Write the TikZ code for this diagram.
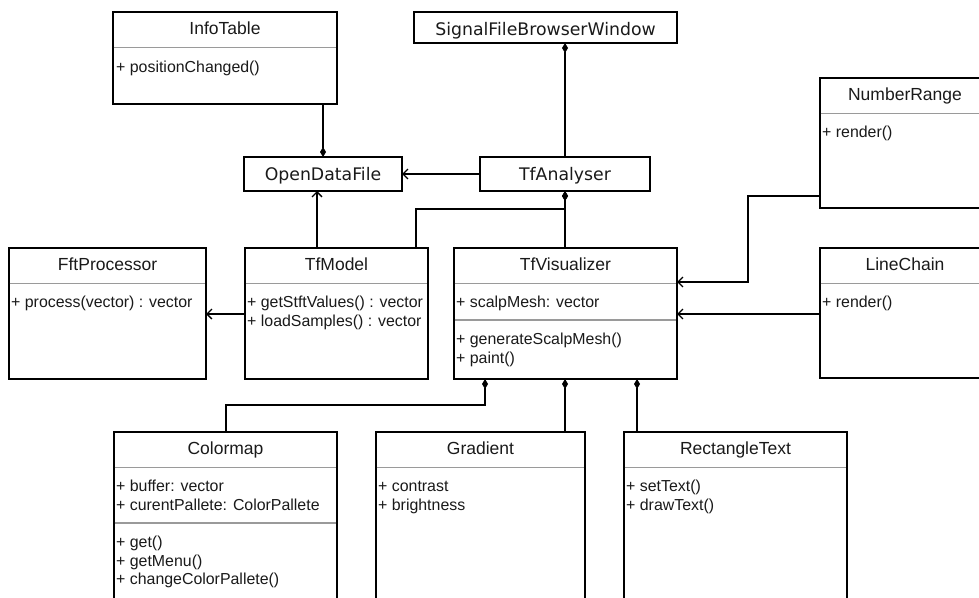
\documentclass[tikz,border=0pt]{standalone}
\usepackage{fontspec}
\setmainfont{Liberation Sans}
\newfontfamily\dejavu{DejaVu Sans}
\usetikzlibrary{arrows.meta,calc}
\definecolor{divgray}{HTML}{9A9A9A}
\definecolor{txt}{HTML}{1A1A1A}
\tikzset{
  cbox/.style={draw=black, line width=1.3pt, fill=white, inner sep=0pt, outer sep=0pt, anchor=north west},
  ctitle/.style={inner sep=0pt, anchor=base, font=\fontsize{17.5}{20}\selectfont, text=txt},
  stitle/.style={inner sep=0pt, anchor=base, font=\dejavu\fontsize{17.3}{20}\selectfont, text=txt},
  mem/.style={inner sep=0pt, anchor=base west, font=\fontsize{15.9}{19}\selectfont, text=txt},
  divline/.style={draw=divgray, line width=1.3pt},
  conn/.style={draw=black, line width=1.3pt},
  arr/.style={conn, -{Straight Barb[length=5pt,width=10pt]}},
  comp/.style={conn, {Diamond[length=10pt,width=6pt]}-},
}
\newcommand\umlclass[6]{%
  \node[cbox, minimum width=#4, minimum height=#5] (#1) at (#2,#3) {};
  \node[ctitle] (#1-t) at ($(#1.north)+(0,22.5)$) {#6};
  \draw[divline] ($(#1.north west)+(0.7,35.5)$) -- ($(#1.north east)+(-0.7,35.5)$);
}
\newcommand\simplebox[6]{%
  \node[cbox, minimum width=#4, minimum height=#5] (#1) at (#2,#3) {};
  \node[stitle] (#1-t) at ($(#1.north)+(0,23.8)$) {#6};
}
\begin{document}
\begin{tikzpicture}[x=1pt,y=-1pt]
\useasboundingbox (0,0) rectangle (979,597);
\clip (0,0) rectangle (979,597);

% ---- classes
\umlclass{info}{113}{12}{224}{92}{InfoTable}
\node[mem] (info-m1) at (116,72.5) {+ positionChanged()};

\simplebox{sfbw}{414}{12}{263}{31}{SignalFileBrowserWindow}
\simplebox{odf}{244}{157}{158}{34}{OpenDataFile}
\simplebox{tfa}{480}{157}{170}{34}{TfAnalyser}

\umlclass{fft}{9}{248}{197}{131}{FftProcessor}
\node[mem] (fft-m1) at (11,307.5) {+ process(vector) : vector};

\umlclass{tfm}{245}{248}{183}{131}{TfModel}
\node[mem] (tfm-m1) at (247,307.5) {+ getStftValues() : vector};
\node[mem] (tfm-m2) at (247,326) {+ loadSamples() : vector};

\umlclass{tfv}{454}{248}{223}{131}{TfVisualizer}
\draw[divline] ($(tfv.north west)+(0.7,72)$) -- ($(tfv.north east)+(-0.7,72)$);
\node[mem] (tfv-m1) at (456,307.5) {+ scalpMesh: vector};
\node[mem] (tfv-m2) at (456,344.5) {+ generateScalpMesh()};
\node[mem] (tfv-m3) at (456,363) {+ paint()};

\umlclass{nr}{820}{78}{170}{130}{NumberRange}
\node[mem] (nr-m1) at (822,137.5) {+ render()};

\umlclass{lc}{820}{248}{170}{130}{LineChain}
\node[mem] (lc-m1) at (822,307.5) {+ render()};

\umlclass{cm}{114}{432}{223}{200}{Colormap}
\draw[divline] ($(cm.north west)+(0.7,91)$) -- ($(cm.north east)+(-0.7,91)$);
\node[mem] (cm-m1) at (116,491.5) {+ buffer: vector};
\node[mem] (cm-m2) at (116,510) {+ curentPallete: ColorPallete};
\node[mem] (cm-m3) at (116,547.5) {+ get()};
\node[mem] (cm-m4) at (116,566) {+ getMenu()};
\node[mem] (cm-m5) at (116,584.5) {+ changeColorPallete()};

\umlclass{gr}{376}{432}{209}{200}{Gradient}
\node[mem] (gr-m1) at (378,491.5) {+ contrast};
\node[mem] (gr-m2) at (378,510) {+ brightness};

\umlclass{rt}{624}{432}{223}{200}{RectangleText}
\node[mem] (rt-m1) at (626,491.5) {+ setText()};
\node[mem] (rt-m2) at (626,510) {+ drawText()};

% ---- connector helper points
\coordinate (j1) at (416,209);
\coordinate (c1) at ($(tfm.north west)+(72,0)$);
\coordinate (c2) at (245,314);
\coordinate (c3) at (820,196);
\coordinate (j3) at (748,282);
\coordinate (c4) at (820,314);
\coordinate (d1) at (485,379);
\coordinate (d2) at (565,379);
\coordinate (j2) at (226,405);
\coordinate (d3) at (637,379);

% ---- connectors
\draw[comp] (odf.north) -- (odf.north |- info.south);
\draw[comp] (sfbw.south -| tfa.north) -- (tfa.north);
\draw[arr] (tfa.west) -- (odf.east);
\draw[comp] (tfa.south) |- (j1) -- (j1 |- tfm.north);
\draw[comp] (tfa.south) -- (tfa.south |- tfv.north);
\draw[arr] (c1) -- (c1 |- odf.south);
\draw[arr] (c2) -- (c2 -| fft.east);
\draw[arr] (c3) -| (j3) -- (j3 -| tfv.east);
\draw[arr] (c4) -- (c4 -| tfv.east);
\draw[comp] (d1) |- (j2) -- (j2 |- cm.north);
\draw[comp] (d2) -- (d2 |- gr.north);
\draw[comp] (d3) -- (d3 |- rt.north);
\end{tikzpicture}
\end{document}
